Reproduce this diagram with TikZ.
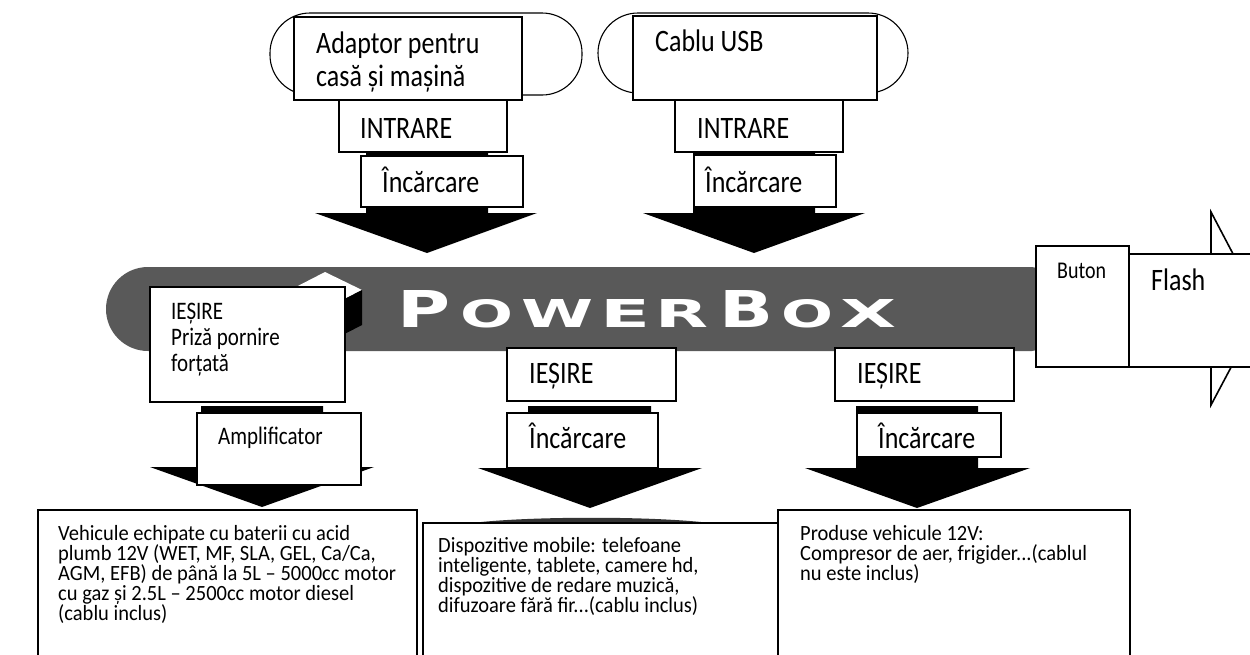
\documentclass[tikz,border=0pt]{standalone}
\usepackage{fontspec}
\setmainfont{Carlito}
\newfontfamily\logofont{DejaVu Sans}
\usepackage{graphicx}
\usetikzlibrary{fit}
\definecolor{bandgray}{HTML}{595959}
\newcommand{\lgl}[3]{\resizebox{#1pt}{#2pt}{\logofont\bfseries #3}}
\newcommand{\st}[1]{\scalebox{1}[1.2]{#1}}
\newcommand{\blk}[2]{\scalebox{1}[1.06]{\parbox[t]{#1pt}{\lineskiplimit=-100pt\raggedright #2}}}
\newcommand{\pbx}[2]{\parbox[t]{#1pt}{\lineskiplimit=-100pt\raggedright #2}}
\begin{document}
\begin{tikzpicture}[x=1pt,y=-1pt,
  bx/.style={draw=black, line width=1.6pt, fill=white, inner sep=0pt},
  ov/.style={draw=black, line width=1.1pt, fill=white, inner sep=0pt, rounded corners=40pt},
  big/.style={font=\fontsize{26}{27.5}\selectfont, inner sep=0pt, anchor=base west},
  mid/.style={font=\fontsize{21}{21.7}\selectfont, inner sep=0pt, anchor=base west},
  sml/.style={font=\fontsize{20.5}{18.9}\selectfont, inner sep=0pt, anchor=base west},
  btn/.style={font=\fontsize{20}{20}\selectfont, inner sep=0pt, anchor=base west},
  arr/.style={fill=black},
  lg/.style={text=white, inner sep=0pt, anchor=south west}]
\useasboundingbox (0,0) rectangle (1250,654);
\clip (0,0) rectangle (1250,654);
\fill[white] (0,0) rectangle (1250,654);

% ---------- top inputs ----------
\node[ov, fit={(270,13) (582,95)}] (ovA) {};
\node[bx, fit={(294,17) (522,100)}] (adapt) {};
\node[ov, fit={(598,13) (908,93)}] (ovB) {};
\node[bx, fit={(633,16) (877,100)}] (usb) {};
\node[bx, fit={(339,100) (507,152)}] (inA) {};
\node[bx, fit={(675,100) (843,152)}] (inB) {};
\fill[arr] (366,153) -- (488,153) -- (488,213) -- (537,213) -- (427,253) -- (315,213) -- (366,213) -- cycle;
\fill[arr] (693,153) -- (815,153) -- (815,213) -- (865,213) -- (754,253) -- (643,213) -- (693,213) -- cycle;
\node[bx, fit={(361,156) (523,207)}] (chA) {};
\node[bx, fit={(694,155) (836,207)}] (chB) {};

\node[big] (tA) at (316,53) {\st{\pbx{200}{Adaptor pentru\\casă și mașină}}};
\node[big] (tB) at (655,51) {\st{Cablu USB}};
\node[big] (tinA) at (360,138) {\st{INTRARE}};
\node[big] (tinB) at (697,138) {\st{INTRARE}};
\node[big] (tchA) at (382,192) {\st{Încărcare}};
\node[big] (tchB) at (705,192) {\st{Încărcare}};

% ---------- power box band ----------
\fill[bandgray, rounded corners=42pt] (106,267) rectangle (200,351);
\fill[bandgray, rounded corners=10pt] (150,267) rectangle (1042,351);
\fill[white] (290,290) -- (325,272) -- (362,290) -- (327,308) -- cycle;
\fill[black] (327,308) -- (362,290) -- (362,325) -- (327,343) -- cycle;
\node[lg] (lP)  at (397,328) {\lgl{53}{37}{P}};
\node[lg] (lO1) at (460,328) {\lgl{53}{28}{O}};
\node[lg] (lW)  at (521,328) {\lgl{72}{28}{W}};
\node[lg] (lE)  at (600,328) {\lgl{50}{28}{E}};
\node[lg] (lR)  at (655,328) {\lgl{53}{28}{R}};
\node[lg] (lB)  at (719,328) {\lgl{54}{37}{B}};
\node[lg] (lO2) at (781,328) {\lgl{52}{28}{O}};
\node[lg] (lX)  at (840,328) {\lgl{56}{28}{X}};

% ---------- outputs ----------
\node[bx, fit={(150,287) (345,402)}] (outL) {};
\node[bx, fit={(507,348) (676,401)}] (outM) {};
\node[bx, fit={(835,348) (1014,401)}] (outR) {};
\fill[arr] (201,406) -- (323,406) -- (323,467) -- (374,467) -- (262,507) -- (150,467) -- (201,467) -- cycle;
\fill[arr] (528,406) -- (651,406) -- (651,468) -- (702,468) -- (590,508) -- (478,468) -- (528,468) -- cycle;
\fill[arr] (856,406) -- (978,406) -- (978,468) -- (1030,468) -- (917,508) -- (805,468) -- (856,468) -- cycle;
\node[bx, fit={(197,413) (361,485)}] (amp) {};
\node[bx, fit={(507,413) (658,468)}] (chM) {};
\node[bx, fit={(857,413) (1001,457)}] (chR) {};

\node[mid] (tL) at (171,319) {\st{\pbx{170}{IEȘIRE\\Priză pornire\\forțată}}};
\node[mid] (tamp) at (218,444) {\st{Amplificator}};
\node[big] (toM) at (529,383) {\st{IEȘIRE}};
\node[big] (toR) at (857,383) {\st{IEȘIRE}};
\node[big] (tchM) at (529,448) {\st{Încărcare}};
\node[big] (tchR) at (878,448) {\st{Încărcare}};

% ---------- button / flash ----------
\draw[bx] (1211,212) -- (1262,309) -- (1211,405) -- cycle;
\node[bx, fit={(1129,254) (1275,367)}] (flash) {};
\node[bx, fit={(1036,246) (1129,367)}] (buton) {};
\node[btn] (tbut) at (1057,278) {\st{Buton}};
\node[big] (tfl) at (1151,290) {\st{Flash}};

% ---------- targets ----------
\fill[black!80] (472,523) .. controls (530,516) and (653,516) .. (710,523) -- cycle;
\node[bx, fit={(423,523) (778,662)}] (dev) {};
\node[bx, fit={(38,510) (417,662)}] (veh) {};
\node[bx, fit={(778,510) (1130,662)}] (prod) {};

\node[sml] (vtxt) at (58,540) {\blk{355}{Vehicule echipate cu baterii cu acid\\plumb 12V (WET, MF, SLA, GEL, Ca/Ca,\\AGM, EFB) de până la 5L – 5000cc motor\\cu gaz și 2.5L – 2500cc motor diesel\\(cablu inclus)}};
\node[sml] (dtxt) at (438,552) {\blk{335}{Dispozitive mobile: telefoane\\inteligente, tablete, camere hd,\\dispozitive de redare muzică,\\difuzoare fără fir...(cablu inclus)}};
\node[sml] (ptxt) at (800,540) {\blk{325}{Produse vehicule 12V:\\Compresor de aer, frigider...(cablul\\nu este inclus)}};
\end{tikzpicture}
\end{document}
